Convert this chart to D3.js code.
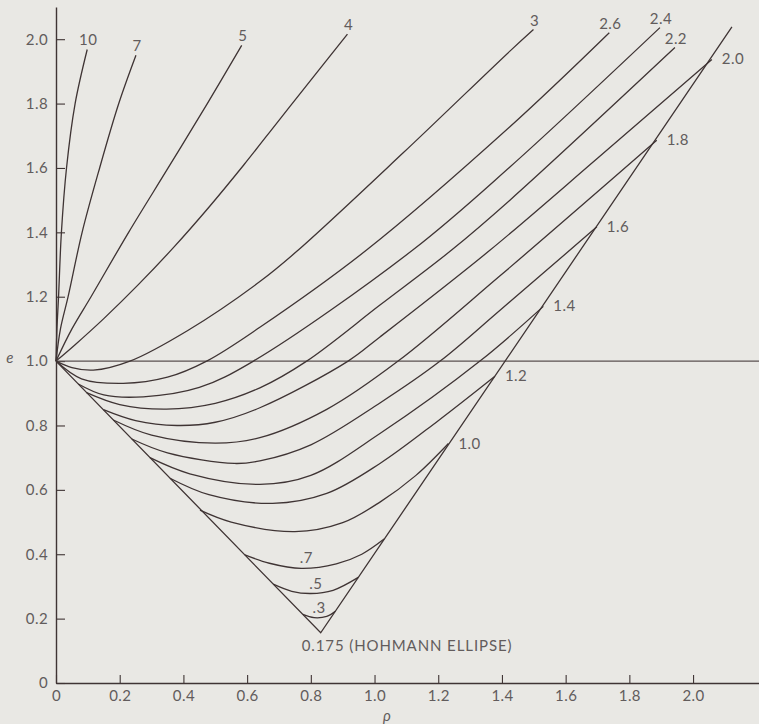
<!DOCTYPE html>
<html>
<head>
<meta charset="utf-8">
<script src="https://cdn.jsdelivr.net/npm/d3@7"></script>
<style>
  body { margin: 0; background: #e9e8e4; }
  svg { display: block; }
  text { font-family: Lato, "Open Sans", sans-serif; fill: #625c5c; letter-spacing: 0.4px; }
</style>
</head>
<body>
<svg width="759" height="724"></svg>
<script>
// tick values
const xTicks = [0, 0.2, 0.4, 0.6, 0.8, 1.0, 1.2, 1.4, 1.6, 1.8, 2.0];
const yTicks = [0, 0.2, 0.4, 0.6, 0.8, 1.0, 1.2, 1.4, 1.6, 1.8, 2.0];

// curves, [rho, e]
const c10  = [[0,1],[0.003,1.1],[0.008,1.2],[0.017,1.4],[0.033,1.6],[0.06,1.8],[0.098,1.968]];
const c7   = [[0,1],[0.014,1.1],[0.038,1.2],[0.082,1.4],[0.137,1.6],[0.197,1.8],[0.251,1.95]];
const c5   = [[0,1],[0.05,1.1],[0.11,1.2],[0.228,1.4],[0.352,1.6],[0.475,1.8],[0.583,1.981]];
const c4   = [[0,1],[0.06,1.051],[0.15,1.132],[0.26,1.239],[0.37,1.354],[0.48,1.478],[0.59,1.61],[0.7,1.748],[0.81,1.885],[0.915,2.016]];
const c3   = [[0,1],[0.05,0.98],[0.117,0.972],[0.232,1.0],[0.415,1.096],[0.64,1.247],[0.756,1.341],[1.09,1.647],[1.425,1.963],[1.499,2.03]];
const c26  = [[0,1],[0.08,0.945],[0.211,0.931],[0.35,0.95],[0.473,1.0],[0.64,1.105],[0.975,1.345],[1.425,1.728],[1.737,2.02]];
const c24  = [[0.07,0.929],[0.15,0.895],[0.274,0.889],[0.45,0.918],[0.62,1.0],[1.12,1.345],[1.425,1.603],[1.896,2.036]];
const c22  = [[0.096,0.902],[0.2,0.865],[0.347,0.851],[0.5,0.869],[0.64,0.917],[0.787,1.0],[1.017,1.174],[1.242,1.345],[1.425,1.5],[1.943,1.974]];
const c20  = [[0.149,0.849],[0.25,0.815],[0.38,0.8],[0.5,0.81],[0.64,0.855],[0.917,1.0],[1.017,1.075],[1.363,1.345],[1.7,1.63],[2.059,1.937]];
const c18  = [[0.18,0.817],[0.3,0.77],[0.5,0.745],[0.64,0.762],[0.85,0.85],[1.074,1.0],[1.394,1.265],[1.886,1.686]];
const c16  = [[0.238,0.758],[0.35,0.715],[0.56,0.682],[0.64,0.69],[0.8,0.74],[1.017,0.87],[1.206,1.0],[1.394,1.158],[1.698,1.417]];
const c14  = [[0.295,0.70],[0.42,0.65],[0.64,0.617],[0.8,0.645],[1.017,0.775],[1.331,1.0],[1.53,1.17]];
const c12  = [[0.358,0.636],[0.48,0.585],[0.68,0.558],[0.85,0.589],[1.017,0.682],[1.2,0.815],[1.378,0.953]];
const c10b = [[0.452,0.537],[0.55,0.5],[0.75,0.47],[0.9,0.498],[1.017,0.562],[1.13,0.645],[1.232,0.744]];
const c07  = [[0.593,0.398],[0.67,0.372],[0.77,0.356],[0.88,0.37],[0.96,0.4],[1.03,0.447]];
const c05  = [[0.682,0.307],[0.74,0.285],[0.8,0.278],[0.87,0.288],[0.949,0.328]];
const c03  = [[0.775,0.213],[0.81,0.203],[0.85,0.207],[0.877,0.223]];

// Hohmann ellipse boundary
const hohmann = [[0,1],[0.831,0.156],[2.122,2.038]];

const curves = [
  {label: "10",  pts: c10,  at: "top"},
  {label: "7",   pts: c7,   at: "top"},
  {label: "5",   pts: c5,   at: "top"},
  {label: "4",   pts: c4,   at: "top"},
  {label: "3",   pts: c3,   at: "top"},
  {label: "2.6", pts: c26,  at: "top"},
  {label: "2.4", pts: c24,  at: "top"},
  {label: "2.2", pts: c22,  at: "top"},
  {label: "2.0", pts: c20,  at: "right"},
  {label: "1.8", pts: c18,  at: "right"},
  {label: "1.6", pts: c16,  at: "right"},
  {label: "1.4", pts: c14,  at: "right"},
  {label: "1.2", pts: c12,  at: "right"},
  {label: "1.0", pts: c10b, at: "right"},
  {label: ".7",  pts: c07,  at: "min"},
  {label: ".5",  pts: c05,  at: "min"},
  {label: ".3",  pts: c03,  at: "min"}
];

const svg = d3.select("svg");
const width = +svg.attr("width");
const height = +svg.attr("height");

svg.append("rect").attr("width", width).attr("height", height).attr("fill", "#e9e8e4");

const x = d3.scaleLinear().domain([0, 2.207]).range([56, 759]);
const y = d3.scaleLinear().domain([0, 2.1]).range([683, 7]);

const ink = "#3f3434";
const fmt = d => d === 0 ? "0" : d3.format(".1f")(d);

// axes
const xAxis = svg.append("g")
  .attr("transform", `translate(0, ${y(0)})`)
  .call(d3.axisBottom(x).tickValues(xTicks).tickSize(-8).tickSizeOuter(0).tickPadding(7).tickFormat(fmt));

const yAxis = svg.append("g")
  .attr("transform", `translate(${x(0)}, 0)`)
  .call(d3.axisLeft(y).tickValues(yTicks).tickSize(-9).tickSizeOuter(0).tickPadding(8).tickFormat(fmt));

[xAxis, yAxis].forEach(g => {
  g.select(".domain").attr("stroke", ink).attr("stroke-width", 1.4);
  g.selectAll(".tick line").attr("stroke", ink).attr("stroke-width", 1.1);
  g.selectAll(".tick text").attr("fill", "#625c5c").style("font-size", "15px")
    .style("font-family", "Lato, 'Open Sans', sans-serif");
});

// e = 1.0 reference line
svg.append("line")
  .attr("x1", x(0)).attr("x2", width)
  .attr("y1", y(1)).attr("y2", y(1))
  .attr("stroke", "#5a5050").attr("stroke-width", 1.2);

const line = d3.line()
  .x(d => x(d[0]))
  .y(d => y(d[1]))
  .curve(d3.curveCatmullRom.alpha(0.5));

svg.append("g").selectAll("path").data(curves)
  .enter().append("path")
    .attr("d", d => line(d.pts))
    .attr("fill", "none")
    .attr("stroke", ink)
    .attr("stroke-width", 1.3);

svg.append("path")
  .attr("d", d3.line().x(d => x(d[0])).y(d => y(d[1]))(hohmann))
  .attr("fill", "none")
  .attr("stroke", ink)
  .attr("stroke-width", 1.3);

// curve labels
curves.forEach(c => {
  let p;
  const t = svg.append("text").text(c.label).style("font-size", "15px");
  if (c.at === "top") {
    p = c.pts[c.pts.length - 1];
    t.attr("x", x(p[0]) + 1).attr("y", y(p[1]) - 4).attr("text-anchor", "middle");
  } else if (c.at === "right") {
    p = c.pts[c.pts.length - 1];
    t.attr("x", x(p[0]) + 10).attr("y", y(p[1]) + 5);
  } else {
    p = c.pts.reduce((a, b) => b[1] < a[1] ? b : a);
    t.attr("x", x(p[0]) + 5).attr("y", y(p[1]) - 5).attr("text-anchor", "middle");
  }
});

svg.append("text")
  .attr("x", x(hohmann[1][0]) - 19)
  .attr("y", y(hohmann[1][1]) + 18)
  .style("font-size", "15px")
  .style("letter-spacing", "0.9px")
  .text("0.175 (HOHMANN ELLIPSE)");

// axis titles
svg.append("text")
  .attr("x", 10).attr("y", y(1) + 2)
  .attr("text-anchor", "middle")
  .style("font-style", "italic").style("font-size", "15px")
  .text("e");

svg.append("text")
  .attr("x", 387).attr("y", 721)
  .attr("text-anchor", "middle")
  .style("font-style", "italic").style("font-size", "15px")
  .text("ρ");
</script>
</body>
</html>
